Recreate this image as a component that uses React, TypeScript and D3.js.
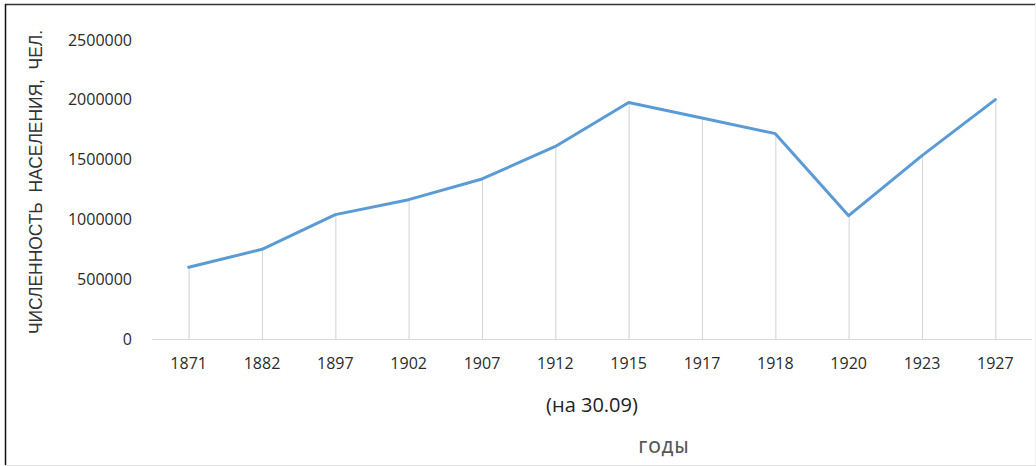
import React from 'react';
import * as d3 from 'd3';

// population by year
const years = ['1871', '1882', '1897', '1902', '1907', '1912', '1915', '1917', '1918', '1920', '1923', '1927'];
const population = [600000, 750000, 1040000, 1165000, 1338000, 1610000, 1978000, 1848000, 1717000, 1031000, 1533000, 2001000];
const yTicks = [0, 500000, 1000000, 1500000, 2000000, 2500000];

const W = 1036, H = 466;
const plot = { left: 152, right: 1032, top: 40, bottom: 339 };
const tickFont = '"Open Sans", "Noto Sans", sans-serif';

export default function App() {
  const x = d3.scalePoint<string>().domain(years).range([plot.left, plot.right]).padding(0.5);
  const y = d3.scaleLinear().domain([0, 2500000]).range([plot.bottom, plot.top]);

  const line = d3.line<number>()
    .x((d, i) => x(years[i]) as number)
    .y(d => y(d));

  return (
    <div style={{ position: 'fixed', left: 0, top: 0, width: W, height: H, background: '#fff' }}>
      <svg width={W} height={H}>
        <rect x={0} y={0} width={W} height={H} fill="#fff" />
        {/* frame */}
        <line x1={5} x2={W} y1={4.5} y2={4.5} stroke="#333" strokeWidth={1.5} />
        <line x1={5.5} x2={5.5} y1={4} y2={465} stroke="#111" strokeWidth={1.5} />
        <line x1={1035.5} x2={1035.5} y1={4} y2={466} stroke="#eee" />
        <line x1={5} x2={W} y1={465.5} y2={465.5} stroke="#e0e0e0" />

        {/* y axis title */}
        <text
          transform="translate(42,182) rotate(-90)"
          textAnchor="middle"
          fontFamily='"Liberation Sans", Arial, sans-serif'
          fontSize={18}
          fill="#333"
          textLength={304}
          lengthAdjust="spacingAndGlyphs"
          style={{ whiteSpace: 'pre' }}
        >
          {'ЧИСЛЕННОСТЬ  НАСЕЛЕНИЯ,  ЧЕЛ.'}
        </text>

        {/* y tick labels */}
        {yTicks.map(t => (
          <text key={t} x={132} y={y(t)} dy="0.35em" textAnchor="end"
            fontFamily={tickFont} fontSize={16} fontWeight={500} fill="#2b2b2b">{t}</text>
        ))}

        {/* drop lines */}
        {population.map((v, i) => (
          <line key={years[i]} x1={(x(years[i]) as number) + 0.5} x2={(x(years[i]) as number) + 0.5}
            y1={y(v)} y2={plot.bottom} stroke="#d9d9d9" strokeWidth={1.2} />
        ))}

        {/* x axis */}
        <line x1={plot.left} x2={plot.right} y1={plot.bottom + 0.5} y2={plot.bottom + 0.5} stroke="#d9d9d9" strokeWidth={1.2} />
        {years.map(yr => (
          <text key={yr} x={x(yr)} y={363} dy="0.35em" textAnchor="middle"
            fontFamily={tickFont} fontSize={16} fontWeight={500} fill="#2b2b2b">{yr}</text>
        ))}

        {/* series */}
        <path d={line(population) || ''} fill="none" stroke="#5b9bd5" strokeWidth={3} strokeLinejoin="round" strokeLinecap="round" />

        {/* notes */}
        <text x={592} y={405} dy="0.35em" textAnchor="middle"
          fontFamily={tickFont} fontSize={20} fill="#222">(на 30.09)</text>
        <text x={664} y={447} dy="0.35em" textAnchor="middle"
          fontFamily={tickFont} fontSize={16} fontWeight={600} letterSpacing={1} fill="#595959">ГОДЫ</text>
      </svg>
    </div>
  );
}
